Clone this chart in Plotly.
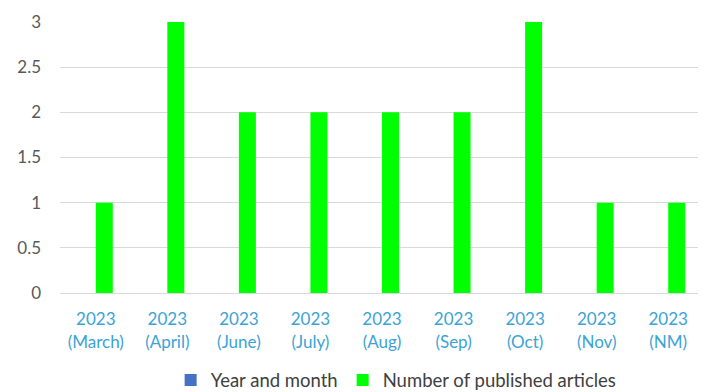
import plotly.graph_objects as go

categories = ["2023<br>(March)", "2023<br>(April)", "2023<br>(June)", "2023<br>(July)",
              "2023<br>(Aug)", "2023<br>(Sep)", "2023<br>(Oct)", "2023<br>(Nov)", "2023<br>(NM)"]
year_month = [0, 0, 0, 0, 0, 0, 0, 0, 0]
articles = [1, 3, 2, 2, 2, 2, 3, 1, 1]
y_ticks = [0, 0.5, 1, 1.5, 2, 2.5, 3]
y_tick_labels = ["0", "0.5", "1", "1.5", "2", "2.5", "3"]

fig = go.Figure()
fig.add_trace(go.Bar(x=categories, y=year_month, name="Year and month",
                     marker=dict(color="#4472C4", line=dict(width=0))))
fig.add_trace(go.Bar(x=categories, y=articles, name="Number of published articles",
                     marker=dict(color="#00FF00", line=dict(width=0))))

fig.update_layout(
    width=698, height=384,
    margin=dict(l=52, r=2, t=14, b=99, autoexpand=False),
    paper_bgcolor="white", plot_bgcolor="white",
    barmode="group", bargap=0.525, bargroupgap=0,
    font=dict(family="Lato", size=16, color="#595959"),
    showlegend=True,
    legend=dict(orientation="h", xref="container", x=0.233, xanchor="left",
                yref="container", y=0.03, yanchor="middle",
                font=dict(size=18.5, color="#404040"), itemwidth=30,
                traceorder="normal", bgcolor="rgba(0,0,0,0)"),
)
fig.update_xaxes(showline=True, linecolor="#d9d9d9", linewidth=1, showgrid=False,
                 automargin=False, ticks="", ticklabelstandoff=11,
                 tickfont=dict(size=17, color="#3BA3D6", family="Lato"))
fig.update_yaxes(range=[0, 3], tickvals=y_ticks, ticktext=y_tick_labels,
                 showgrid=True, gridcolor="#d9d9d9", gridwidth=1, zeroline=False,
                 automargin=False, ticks="", ticklabelstandoff=18,
                 tickfont=dict(size=17, color="#595959", family="Lato"))

fig.write_html("out.html")
